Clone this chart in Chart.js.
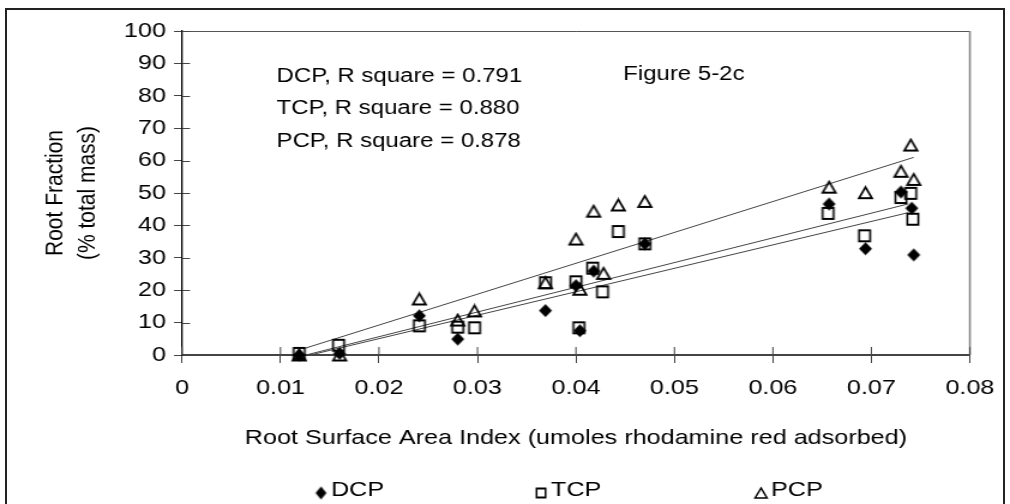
<!DOCTYPE html>
<html>
<head>
<meta charset="utf-8">
<title>Figure 5-2c</title>
<script src="https://cdn.jsdelivr.net/npm/chart.js@4.4.1/dist/chart.umd.min.js"></script>
<style>
  html, body { margin: 0; padding: 0; background: #fff; }
  #page { position: relative; width: 1010px; height: 504px; overflow: hidden; }
  #frame { position: absolute; left: 5px; top: 8px; width: 1000px; height: 520px; border: 2px solid #222; box-sizing: border-box; }
  /* the original picture is stretched sideways, so the chart is drawn narrow and widened */
  #stretch { position: absolute; left: 0; top: 0; width: 842px; height: 504px; transform: scale(1.1995, 1); transform-origin: 0 0; }
</style>
</head>
<body>
<div id="page">
  <div id="frame"></div>
  <div id="stretch"><canvas id="myChart"></canvas></div>
</div>
<script>
// horizontal stretch of the picture
var S = 1010 / 842;

// data
var dcpX = [0.0119, 0.0160, 0.0241, 0.0280, 0.0369, 0.0400, 0.0404, 0.0418, 0.0470, 0.0657, 0.0694, 0.0730, 0.0741, 0.0743];
var dcpY = [0, 0.5, 12.1, 4.9, 13.7, 21.4, 7.5, 25.9, 34.3, 46.6, 32.8, 50.3, 45.3, 30.9];

var tcpX = [0.0119, 0.0159, 0.0241, 0.0280, 0.0297, 0.0369, 0.0400, 0.0403, 0.0417, 0.0427, 0.0443, 0.0470, 0.0656, 0.0693, 0.0730, 0.0740, 0.0742];
var tcpY = [0.5, 3.0, 9.0, 8.6, 8.4, 22.3, 22.6, 8.4, 26.8, 19.5, 38.1, 34.3, 43.7, 36.8, 48.6, 49.9, 41.9];

var pcpX = [0.0119, 0.0160, 0.0241, 0.0280, 0.0297, 0.0369, 0.0400, 0.0404, 0.0418, 0.0428, 0.0443, 0.0470, 0.0657, 0.0694, 0.0730, 0.0740, 0.0743];
var pcpY = [0, 0, 17.3, 10.8, 13.6, 22.3, 35.8, 20.3, 44.4, 25.2, 46.3, 47.4, 51.8, 50.1, 56.7, 64.8, 54.2];

// trend line end points (x start/end, y start/end)
var dcpTrendX = [0.0122, 0.0737];
var dcpTrendY = [-0.6, 43.9];
var tcpTrendX = [0.0122, 0.0737];
var tcpTrendY = [-0.3, 46.6];
var pcpTrendX = [0.0123, 0.0743];
var pcpTrendY = [1.9, 61.0];

var xTickLabels = ['0', '0.01', '0.02', '0.03', '0.04', '0.05', '0.06', '0.07', '0.08'];
var yTickLabels = ['0', '10', '20', '30', '40', '50', '60', '70', '80', '90', '100'];

var seriesNames = ['DCP', 'TCP', 'PCP'];
var rSquareText = ['DCP, R square = 0.791', 'TCP, R square = 0.880', 'PCP, R square = 0.878'];
var figureLabel = 'Figure 5-2c';

function points(xs, ys) {
    var out = [];
    for (var i = 0; i < xs.length; i++) {
        out.push({x: xs[i], y: ys[i]});
    }
    return out;
}

// markers are drawn at their on-screen size, squeezed so the stretch undoes it
function makeMarker(shape, w, h, lw) {
    var c = document.createElement('canvas');
    c.width = Math.ceil(w / S) + 4;
    c.height = Math.ceil(h) + 4;
    var g = c.getContext('2d');
    g.translate(c.width / 2, c.height / 2);
    g.scale(1 / S, 1);
    g.beginPath();
    if (shape == 'diamond') {
        g.moveTo(0, -h / 2); g.lineTo(w / 2, 0); g.lineTo(0, h / 2); g.lineTo(-w / 2, 0);
        g.closePath();
        g.fillStyle = '#000';
        g.fill();
    } else if (shape == 'square') {
        g.rect(-w / 2, -h / 2, w, h);
        g.lineWidth = lw; g.strokeStyle = '#000';
        g.stroke();
    } else {
        g.moveTo(0, -h / 2); g.lineTo(w / 2, h / 2); g.lineTo(-w / 2, h / 2);
        g.closePath();
        g.lineWidth = lw; g.strokeStyle = '#000'; g.lineJoin = 'miter';
        g.stroke();
    }
    return c;
}

var markers = [makeMarker('diamond', 13, 13, 0), makeMarker('square', 11, 11, 2), makeMarker('triangle', 13, 11, 2)];
var legendMarkers = [makeMarker('diamond', 11, 13, 0), makeMarker('square', 9, 9, 1.8), makeMarker('triangle', 12, 10, 1.6)];

var FONT = "'Liberation Sans', Arial, sans-serif";
var TICK = 8; // half length of the crossing tick marks (screen px)

var decorations = {
    id: 'decorations',
    beforeDatasetsDraw: function (chart) {
        var ctx = chart.ctx, a = chart.chartArea, x = chart.scales.x, y = chart.scales.y;
        ctx.save();
        // top and right edges of the plot area
        ctx.strokeStyle = '#555';
        ctx.lineWidth = 1;
        ctx.beginPath(); ctx.moveTo(a.left, a.top + 0.5); ctx.lineTo(a.right, a.top + 0.5); ctx.stroke();
        ctx.strokeStyle = '#888';
        ctx.lineWidth = 1.6;
        ctx.beginPath(); ctx.moveTo(a.right, a.top); ctx.lineTo(a.right, a.bottom); ctx.stroke();
        // inner half of the tick marks
        ctx.strokeStyle = '#444';
        ctx.lineWidth = 1;
        y.ticks.forEach(function (t) {
            var py = Math.round(y.getPixelForValue(t.value)) + 0.5;
            ctx.beginPath(); ctx.moveTo(a.left, py); ctx.lineTo(a.left + TICK / S, py); ctx.stroke();
        });
        x.ticks.forEach(function (t) {
            var px = x.getPixelForValue(t.value);
            ctx.beginPath(); ctx.moveTo(px, a.bottom); ctx.lineTo(px, a.bottom - TICK); ctx.stroke();
        });
        ctx.restore();
    },
    afterDraw: function (chart) {
        var ctx = chart.ctx, x = chart.scales.x, y = chart.scales.y;
        ctx.save();
        ctx.fillStyle = '#000';
        ctx.textAlign = 'left';
        ctx.textBaseline = 'middle';
        // R square notes and figure label
        ctx.font = '20px ' + FONT;
        for (var i = 0; i < rSquareText.length; i++) {
            ctx.fillText(rSquareText[i], x.getPixelForValue(0.0096), y.getPixelForValue(86 - i * 10));
        }
        ctx.fillText(figureLabel, x.getPixelForValue(0.0448), y.getPixelForValue(86.5));
        // legend below the axis title
        ctx.font = '21px ' + FONT;
        for (var k = 0; k < seriesNames.length; k++) {
            var cx = (321 + k * 220) / S;
            var m = legendMarkers[k];
            ctx.drawImage(m, cx - m.width / 2, 493 - m.height / 2);
            ctx.fillText(seriesNames[k], cx + 10 / S, 490);
        }
        ctx.restore();
    }
};

Chart.defaults.font.family = FONT;
Chart.defaults.color = '#000';

var ctx = document.getElementById('myChart').getContext('2d');
var chart = new Chart(ctx, {
    type: 'scatter',
    data: {
        datasets: [
            { label: 'DCP', data: points(dcpX, dcpY), pointStyle: markers[0], pointRadius: 7, clip: false, order: 0 },
            { label: 'TCP', data: points(tcpX, tcpY), pointStyle: markers[1], pointRadius: 7, clip: false, order: 1 },
            { label: 'PCP', data: points(pcpX, pcpY), pointStyle: markers[2], pointRadius: 7, clip: false, order: 2 },
            { type: 'line', label: 'DCP trend', data: points(dcpTrendX, dcpTrendY), borderColor: '#444', borderWidth: 1, pointRadius: 0, fill: false, order: 5 },
            { type: 'line', label: 'TCP trend', data: points(tcpTrendX, tcpTrendY), borderColor: '#444', borderWidth: 1, pointRadius: 0, fill: false, order: 5 },
            { type: 'line', label: 'PCP trend', data: points(pcpTrendX, pcpTrendY), borderColor: '#444', borderWidth: 1, pointRadius: 0, fill: false, order: 5 }
        ]
    },
    options: {
        responsive: true,
        maintainAspectRatio: false,
        animation: false,
        layout: { padding: { left: 0, right: 842 - 970 / S, top: 31, bottom: 0 } },
        plugins: {
            legend: { display: false },
            tooltip: { enabled: false }
        },
        scales: {
            x: {
                type: 'linear',
                min: 0,
                max: 0.08,
                afterFit: function (s) { s.height = 504 - 355; },
                ticks: {
                    stepSize: 0.01,
                    padding: 13,
                    font: { size: 21 },
                    callback: function (v, i) { return xTickLabels[i]; }
                },
                grid: { drawOnChartArea: false, tickLength: TICK, tickColor: '#444', tickWidth: 1 },
                border: { color: '#444', width: 2 },
                title: {
                    display: true,
                    text: 'Root Surface Area Index (umoles rhodamine red adsorbed)',
                    font: { size: 21 },
                    padding: { top: 0, bottom: 53 }
                }
            },
            y: {
                min: 0,
                max: 100,
                afterFit: function (s) { s.width = 182 / S; },
                ticks: {
                    stepSize: 10,
                    padding: 6.7,
                    font: { size: 21 },
                    callback: function (v, i) { return yTickLabels[i]; }
                },
                grid: { drawOnChartArea: false, tickLength: TICK / S, tickColor: '#444', tickWidth: 1 },
                border: { color: '#000', width: 1.3 },
                title: {
                    display: true,
                    text: ['Root Fraction', '(% total mass)'],
                    font: { size: 21, lineHeight: 1.31 },
                    padding: { top: 32, bottom: 0 }
                }
            }
        }
    },
    plugins: [decorations]
});
</script>
</body>
</html>
